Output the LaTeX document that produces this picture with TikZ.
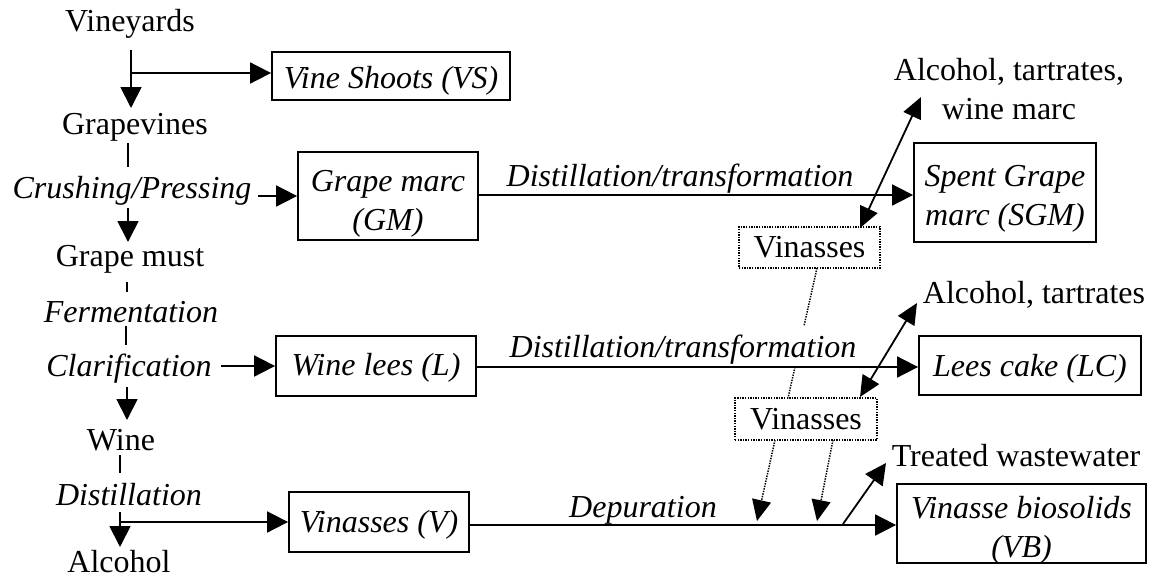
\documentclass[tikz,border=0pt]{standalone}
\usepackage{fontspec}
\setmainfont{Liberation Serif}
\usetikzlibrary{arrows.meta}
\newcommand{\lowr}[2]{\raisebox{-#1}[\height][\depth]{\begin{tabular}{@{}c@{}}#2\end{tabular}}}
\begin{document}
\begin{tikzpicture}[x=1pt,y=-1pt,
  every node/.style={font=\fontsize{32}{39}\selectfont, inner sep=0pt, align=center},
  lbl/.style={font=\fontsize{32}{39}\selectfont\itshape},
  boxn/.style={draw, line width=1.8pt, font=\fontsize{32}{39}\selectfont\itshape},
  vbox/.style={draw, dash pattern=on 1.4pt off 1.2pt, line width=1.4pt},
  ln/.style={line width=1.8pt},
  arr/.style={line width=1.8pt, -{Triangle[length=21pt,width=21pt]}},
  darr/.style={line width=1.8pt, {Triangle[length=21pt,width=19pt]}-{Triangle[length=21pt,width=19pt]}},
  dotl/.style={line width=1.5pt, dash pattern=on 1.4pt off 1.2pt},
  dotarr/.style={dotl, -{Triangle[length=21pt,width=19pt]}},
]
\useasboundingbox[fill=white] (0,0) rectangle (1151,579);

% left column
\node (vy) at (130,24) {Vineyards};
\node (gv) at (135,127) {Grapevines};
\node[lbl] (cp) at (132,191) {Crushing/Pressing};
\node (gm) at (130,259) {Grape must};
\node[lbl] (fe) at (131,312) {Fermentation};
\node[lbl] (cl) at (129,369) {Clarification};
\node (wi) at (121,440) {Wine};
\node[lbl] (di) at (129,495) {Distillation};
\node[anchor=base] (al) at (119,572) {Alcohol};

% boxes
\node[boxn, minimum width=238pt, minimum height=48pt] (VS) at (391,76) {\lowr{5pt}{Vine Shoots (VS)}};
\node[boxn, minimum width=180pt, minimum height=88pt] (GM) at (388,196) {\lowr{7pt}{Grape marc\\(GM)}};
\node[boxn, minimum width=200pt, minimum height=60pt] (WL) at (376,366) {\lowr{2pt}{Wine lees (L)}};
\node[boxn, minimum width=180pt, minimum height=60pt] (V) at (379,522) {\lowr{3pt}{Vinasses (V)}};
\node[boxn, minimum width=182pt, minimum height=99pt] (SGM) at (1005,192.5) {\lowr{6pt}{Spent Grape\\marc (SGM)}};
\node[boxn, minimum width=222pt, minimum height=59pt] (LC) at (1030,365.5) {\lowr{3pt}{Lees cake (LC)}};
\node[boxn, minimum width=249pt, minimum height=79pt] (VB) at (1021.5,523.5) {\lowr{7pt}{Vinasse biosolids\\(VB)}};

% vinasses dotted boxes
\node[vbox, minimum width=141pt, minimum height=41pt] (vn1) at (809.5,247.5) {Vinasses};
\node[vbox, minimum width=142pt, minimum height=42pt] (vn2) at (806,419) {Vinasses};

% right-side texts
\node (atw) at (1009,89) {Alcohol, tartrates,\\wine marc};
\node (at2) at (1034,295) {Alcohol, tartrates};
\node (tw) at (1016,456) {Treated wastewater};

% coordinates
\coordinate (c1) at (131,50);
\coordinate (c2) at (131,108);
\coordinate (b1) at (131,73);
\coordinate (d1a) at (128,143);
\coordinate (d1b) at (128,167);
\coordinate (c3) at (258,196);
\coordinate (c4) at (128,208);
\coordinate (c5) at (128,242);
\coordinate (d2a) at (127,282);
\coordinate (d2b) at (127,292);
\coordinate (d3a) at (126,326);
\coordinate (d3b) at (126,345);
\coordinate (c6) at (221,366);
\coordinate (c7) at (127,387);
\coordinate (c8) at (127,420);
\coordinate (d4a) at (120,455);
\coordinate (d4b) at (120,473);
\coordinate (c9) at (120,512);
\coordinate (c10) at (120,547);
\coordinate (b2) at (120,522);
\coordinate (u1a) at (860,228);
\coordinate (u1b) at (921,97);
\coordinate (u2a) at (860,397);
\coordinate (u2b) at (917,303);
\coordinate (v1) at (817,268);
\coordinate (v1m) at (804,326);
\coordinate (v2m) at (795,367);
\coordinate (v2) at (788,398);
\coordinate (w1a) at (775,440);
\coordinate (w1b) at (757,521);
\coordinate (w2a) at (833,440);
\coordinate (w2b) at (817,521);
\coordinate (t1) at (843,524);
\coordinate (t2) at (886,463);

% left column connectors
\draw[arr] (c1) -- (c2);
\draw[arr] (b1) -- (b1 -| VS.west);
\draw[ln] (d1a) -- (d1b);
\draw[arr] (c3) -- (GM.west);
\draw[arr] (c4) -- (c5);
\draw[ln] (d2a) -- (d2b);
\draw[ln] (d3a) -- (d3b);
\draw[arr] (c6) -- (WL.west);
\draw[arr] (c7) -- (c8);
\draw[ln] (d4a) -- (d4b);
\draw[arr] (c9) -- (c10);
\draw[arr] (b2) -- (b2 -| V.west);

% dotted vinasses link (interrupted by the label)
\draw[dotl] (v1) -- (v1m);
\draw[dotl] (v2m) -- (v2);

% main horizontal lines
\draw[arr] (GM.east |- 0,195) -- (SGM.west |- 0,195);
\draw[arr] (WL.east |- 0,367) -- (LC.west |- 0,367);
\draw[arr] (V.east |- 0,525) -- (VB.west |- 0,525);

% labels above lines
\node[lbl] (dt1) at (680,179) {Distillation/transformation};
\node[lbl] (dt2) at (683,350) {Distillation/transformation};
\node[lbl] (dep) at (643,510) {Depuration};

% double arrows and outputs
\draw[darr] (u1a) -- (u1b);
\draw[darr] (u2a) -- (u2b);
\draw[dotarr] (w1a) -- (w1b);
\draw[dotarr] (w2a) -- (w2b);
\draw[arr] (t1) -- (t2);
\end{tikzpicture}
\end{document}
